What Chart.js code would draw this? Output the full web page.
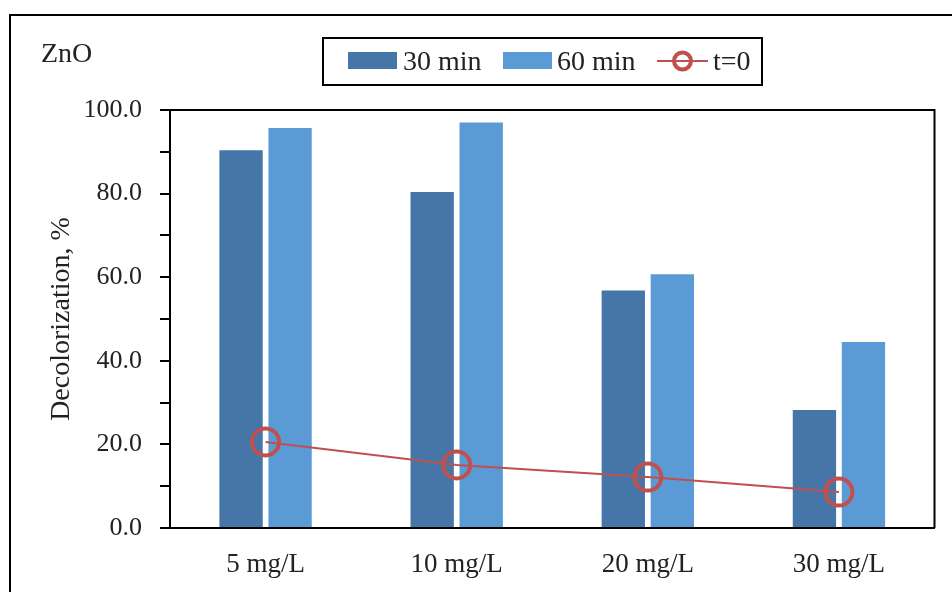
<!DOCTYPE html>
<html>
<head>
<meta charset="utf-8">
<script src="https://cdn.jsdelivr.net/npm/chart.js@4.4.1/dist/chart.umd.min.js"></script>
<style>
  html, body { margin: 0; padding: 0; background: #fff; }
  #wrap { width: 952px; height: 592px; }
</style>
</head>
<body>
<div id="wrap"><canvas id="c" width="952" height="592"></canvas></div>
<script>
const categories = ['5 mg/L', '10 mg/L', '20 mg/L', '30 mg/L'];
const min30 = [90.4, 80.4, 56.8, 28.2];
const min60 = [95.7, 97.0, 60.7, 44.5];
const t0 = [20.6, 15.1, 12.2, 8.6];
const yTicks = [0, 20, 40, 60, 80, 100];

const FONT = "'Liberation Serif', 'DejaVu Serif', serif";
const DARK = '#4676A7';
const LIGHT = '#5B9BD5';
const RED = '#C0504D';

const decorPlugin = {
  id: 'decor',
  beforeDraw(chart) {
    const ctx = chart.ctx;
    ctx.save();
    ctx.fillStyle = '#fff';
    ctx.fillRect(0, 0, chart.width, chart.height);
    ctx.strokeStyle = '#000';
    ctx.lineWidth = 2;
    ctx.strokeRect(10, 15, chart.width + 20, chart.height + 20);
    ctx.restore();
  },
  afterDraw(chart) {
    const ctx = chart.ctx;
    const a = chart.chartArea;
    ctx.save();
    ctx.strokeStyle = '#000';
    ctx.lineWidth = 2;
    ctx.beginPath();
    ctx.moveTo(a.left, a.top);
    ctx.lineTo(a.right, a.top);
    ctx.lineTo(a.right, a.bottom);
    ctx.stroke();

    ctx.fillStyle = '#222';
    ctx.font = "28px " + FONT;
    ctx.textBaseline = 'alphabetic';
    ctx.textAlign = 'left';
    ctx.fillText('ZnO', 41, 62);

    ctx.lineWidth = 2;
    ctx.strokeStyle = '#000';
    ctx.strokeRect(323, 38, 439, 47);
    const ds = chart.data.datasets;
    ctx.font = "28px " + FONT;
    ctx.fillStyle = ds[0].backgroundColor;
    ctx.fillRect(348, 52, 49, 17);
    ctx.fillStyle = ds[1].backgroundColor;
    ctx.fillRect(503, 52, 49, 17);
    ctx.fillStyle = '#222';
    ctx.fillText(ds[0].label, 403, 70);
    ctx.fillText(ds[1].label, 557, 70);
    ctx.strokeStyle = ds[2].borderColor;
    ctx.lineWidth = 2;
    ctx.beginPath();
    ctx.moveTo(657, 61);
    ctx.lineTo(708, 61);
    ctx.stroke();
    ctx.lineWidth = 4;
    ctx.beginPath();
    ctx.arc(682.5, 61, 8.5, 0, Math.PI * 2);
    ctx.stroke();
    ctx.fillStyle = '#222';
    ctx.fillText(ds[2].label, 713, 70);
    ctx.restore();
  }
};

new Chart(document.getElementById('c'), {
  type: 'bar',
  data: {
    labels: categories,
    datasets: [
      { type: 'bar', label: '30 min', data: min30, backgroundColor: DARK, order: 2,
        categoryPercentage: 0.513, barPercentage: 0.884 },
      { type: 'bar', label: '60 min', data: min60, backgroundColor: LIGHT, order: 2,
        categoryPercentage: 0.513, barPercentage: 0.884 },
      { type: 'line', label: 't=0', data: t0, borderColor: RED, borderWidth: 2,
        pointRadius: 13.5, pointHoverRadius: 13.5, pointBorderWidth: 4,
        pointBackgroundColor: 'rgba(0,0,0,0)', pointBorderColor: RED,
        tension: 0, order: 1 }
    ]
  },
  options: {
    responsive: false,
    devicePixelRatio: 1,
    animation: false,
    events: [],
    layout: { padding: { left: 10, right: 15, top: 110, bottom: 0 } },
    plugins: { legend: { display: false }, tooltip: { enabled: false }, title: { display: false } },
    scales: {
      x: {
        grid: { display: false, drawTicks: false },
        border: { display: true, color: '#000', width: 2 },
        ticks: { color: '#222', font: { family: FONT, size: 27 }, padding: 21, maxRotation: 0 },
        afterFit(scale) { scale.height = 64; }
      },
      y: {
        min: 0, max: 100,
        afterBuildTicks(scale) {
          const t = [];
          for (let v = 0; v <= 100; v += 10) t.push({ value: v });
          scale.ticks = t;
        },
        grid: { drawOnChartArea: false, drawTicks: true, tickLength: 10, color: '#000', lineWidth: 2 },
        border: { display: true, color: '#000', width: 2 },
        ticks: {
          color: '#222', font: { family: FONT, size: 26 }, padding: 18,
          callback(v) { return yTicks.includes(v) ? v.toFixed(1) : ''; }
        },
        title: { display: true, text: 'Decolorization, %', color: '#222',
          font: { family: FONT, size: 28, lineHeight: 1.2 }, padding: { top: 35, bottom: 0 } },
        afterFit(scale) { scale.width = 160; }
      }
    }
  },
  plugins: [decorPlugin]
});
</script>
</body>
</html>
